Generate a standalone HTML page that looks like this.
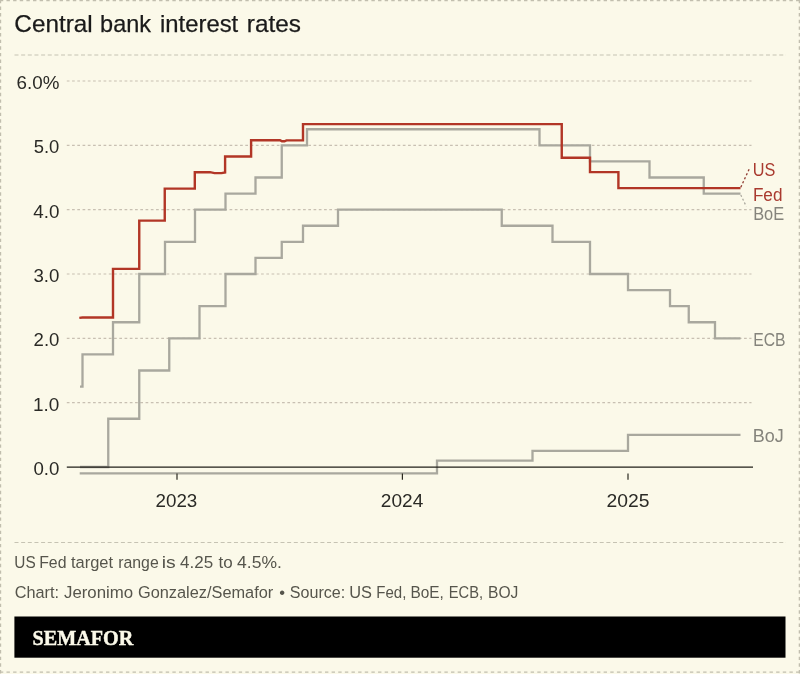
<!DOCTYPE html>
<html lang="en">
<head>
<meta charset="utf-8">
<title>Central bank interest rates</title>
<style>
html,body{margin:0;padding:0;background:#fbf9e9;}
body{width:800px;height:674px;overflow:hidden;font-family:"Liberation Sans",sans-serif;}
svg{display:block}
text{font-family:"Liberation Sans",sans-serif;white-space:pre}
.serif{font-family:"Liberation Serif",serif;font-weight:bold;}
</style>
</head>
<body>
<svg width="800" height="674" viewBox="0 0 800 674">
<rect x="0" y="0" width="800" height="674" fill="#fbf9e9"/>
<g stroke="#c1beae" stroke-width="1.25" stroke-dasharray="3.4 3.235" fill="none">
<line x1="-0.15" y1="0.55" x2="800" y2="0.55"/>
<line x1="0.55" y1="-0.15" x2="0.55" y2="674"/>
<line x1="799.35" y1="-0.15" x2="799.35" y2="674"/>
<line x1="-0.15" y1="672.2" x2="800" y2="672.2"/>
</g>
<g font-size="24" fill="#1a1a1a" stroke="#1a1a1a" stroke-width="0.25"><text y="32.1"><tspan x="14.39" textLength="78.23" lengthAdjust="spacingAndGlyphs">Central</tspan> <tspan x="100.1" textLength="50.87" lengthAdjust="spacingAndGlyphs">bank</tspan> <tspan x="160.03" textLength="78.15" lengthAdjust="spacingAndGlyphs">interest</tspan> <tspan x="246.79" textLength="54.09" lengthAdjust="spacingAndGlyphs">rates</tspan></text></g>
<line x1="14.5" x2="786" y1="55" y2="55" stroke="#c6c3b3" stroke-width="1.1" stroke-dasharray="4 2.65"/>
<g stroke="#c8c0b2" stroke-width="1.15" stroke-dasharray="2.7 2.55"><line x1="66.8" x2="751.5" y1="402.67" y2="402.67"/><line x1="66.8" x2="751.5" y1="338.34" y2="338.34"/><line x1="66.8" x2="751.5" y1="274.01" y2="274.01"/><line x1="66.8" x2="751.5" y1="209.68" y2="209.68"/><line x1="66.8" x2="751.5" y1="145.35" y2="145.35"/><line x1="66.8" x2="751.5" y1="81.02" y2="81.02"/></g>
<g font-size="19.2" fill="#2a2a26"><text x="33.47" y="474.9" textLength="25.94" lengthAdjust="spacingAndGlyphs">0.0</text><text x="33.06" y="410.57" textLength="26.36" lengthAdjust="spacingAndGlyphs">1.0</text><text x="33.57" y="346.24" textLength="25.84" lengthAdjust="spacingAndGlyphs">2.0</text><text x="33.49" y="281.91" textLength="25.92" lengthAdjust="spacingAndGlyphs">3.0</text><text x="33.29" y="217.58" textLength="26.13" lengthAdjust="spacingAndGlyphs">4.0</text><text x="33.76" y="153.25" textLength="25.64" lengthAdjust="spacingAndGlyphs">5.0</text><text x="16.56" y="88.92" textLength="42.8" lengthAdjust="spacingAndGlyphs">6.0%</text></g>
<g fill="none" stroke="#a9a89e" stroke-width="2.3" stroke-linejoin="miter">
<path d="M79.7,473.43H437V460.57H532.5V450.92H628V434.83H740.5"/>
<path d="M80,467.0H108.25V418.75H139.25V370.5H169.25V338.34H199.5V306.18H225.5V274.01H255.5V257.93H281.75V241.84H303V225.76H338V209.68H501.75V225.76H552.5V241.84H590V274.01H628V290.09H670V306.18H688.75V322.26H715V338.34H740.5"/>
<path d="M80,386.59H82.5V354.42H113V322.26H139.25V274.01H165V241.84H195V209.68H225.5V193.6H255.5V177.51H281.75V145.35H307V129.27H539.5V145.35H590V161.43H649.5V177.51H703.75V193.6H740.5"/>
</g>
<line x1="66.8" x2="753" y1="467.1" y2="467.1" stroke="#211f18" stroke-width="1.2"/>
<path d="M79.3,317.9L82.5,317.5H113V268.86H139.25V220.62H164.75V188.64H194.8V172.18H210L214.5,173.1H221.5L225.1,172.5V156.48H251.1V140.2H280L282,141.3L284.5,141.3L286.5,140.4H303V124.12H561.75V157.8H590V172.1H618.4V188.1H740.5" fill="none" stroke="#b23626" stroke-width="2.4"/>
<g stroke="#2b2920" stroke-width="1.2"><line x1="177" x2="177" y1="473.6" y2="479.7"/><line x1="402.4" x2="402.4" y1="473.6" y2="479.7"/><line x1="628" x2="628" y1="473.6" y2="479.7"/></g>
<g font-size="19.2" fill="#2a2a26"><text x="155.56" y="506.5" textLength="41.76" lengthAdjust="spacingAndGlyphs">2023</text><text x="380.85" y="506.5" textLength="42.42" lengthAdjust="spacingAndGlyphs">2024</text><text x="606.53" y="506.5" textLength="42.97" lengthAdjust="spacingAndGlyphs">2025</text></g>
<line x1="740.8" y1="187.2" x2="749.3" y2="168.8" stroke="#8f3a30" stroke-width="1.3" stroke-dasharray="2.2 2.2"/>
<line x1="740.8" y1="195" x2="746.3" y2="206.5" stroke="#a5a399" stroke-width="1.2" stroke-dasharray="2 2.2"/>
<g font-size="18" fill="#85847c"><text x="752.65" y="176.2" textLength="22.59" lengthAdjust="spacingAndGlyphs" fill="#a93a2f">US</text><text x="752.89" y="201.2" textLength="29.61" lengthAdjust="spacingAndGlyphs" fill="#a93a2f">Fed</text><text x="753.16" y="220.2" textLength="30.93" lengthAdjust="spacingAndGlyphs">BoE</text><text x="753.21" y="346.3" textLength="32.31" lengthAdjust="spacingAndGlyphs">ECB</text><text x="752.82" y="442" textLength="31.01" lengthAdjust="spacingAndGlyphs">BoJ</text></g>
<line x1="14.5" x2="786" y1="542.5" y2="542.5" stroke="#c6c3b3" stroke-width="1.1" stroke-dasharray="4 2.65"/>
<g font-size="16.7" fill="#56554c">
<text y="568.1"><tspan x="14.31" textLength="21.38" lengthAdjust="spacingAndGlyphs">US</tspan> <tspan x="39.2" textLength="27.32" lengthAdjust="spacingAndGlyphs">Fed</tspan> <tspan x="71.0" textLength="42.11" lengthAdjust="spacingAndGlyphs">target</tspan> <tspan x="118.2" textLength="40.5" lengthAdjust="spacingAndGlyphs">range</tspan> <tspan x="161.72" textLength="13.98" lengthAdjust="spacingAndGlyphs">is</tspan> <tspan x="180.13" textLength="33.08" lengthAdjust="spacingAndGlyphs">4.25</tspan> <tspan x="218.49" textLength="14.2" lengthAdjust="spacingAndGlyphs">to</tspan> <tspan x="237.11" textLength="44.78" lengthAdjust="spacingAndGlyphs">4.5%.</tspan></text>
<text y="598.2"><tspan x="14.69" textLength="44.3" lengthAdjust="spacingAndGlyphs">Chart:</tspan> <tspan x="64.0" textLength="69.19" lengthAdjust="spacingAndGlyphs">Jeronimo</tspan> <tspan x="137.93" textLength="135.32" lengthAdjust="spacingAndGlyphs">Gonzalez/Semafor</tspan> <tspan x="279.35" textLength="5.79" lengthAdjust="spacingAndGlyphs">•</tspan> <tspan x="289.78" textLength="55.44" lengthAdjust="spacingAndGlyphs">Source:</tspan> <tspan x="349.24" textLength="22.75" lengthAdjust="spacingAndGlyphs">US</tspan> <tspan x="376.27" textLength="30.09" lengthAdjust="spacingAndGlyphs">Fed,</tspan> <tspan x="410.49" textLength="33.4" lengthAdjust="spacingAndGlyphs">BoE,</tspan> <tspan x="448.8" textLength="34.28" lengthAdjust="spacingAndGlyphs">ECB,</tspan> <tspan x="487.97" textLength="30.38" lengthAdjust="spacingAndGlyphs">BOJ</tspan></text>
</g>
<rect x="14.4" y="616.5" width="771.1" height="41.2" fill="#000"/>
<g font-size="22" fill="#fbf9e9" stroke="#fbf9e9" stroke-width="0.45"><text x="32.53" y="644.6" textLength="100.69" lengthAdjust="spacingAndGlyphs" class="serif">SEMAFOR</text></g>
</svg>
</body>
</html>
